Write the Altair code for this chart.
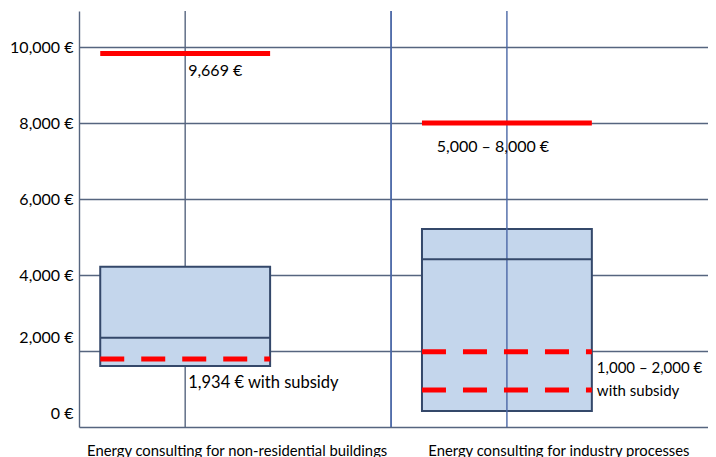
import altair as alt
import pandas as pd

# ---- data ----
categories = ["Energy consulting for non-residential buildings",
              "Energy consulting for industry processes"]
box_low = [1605, 421]
box_mid = [2350, 4413]
box_high = [4218, 5210]
price_full = [9830, 8000]
price_labels = ["9,669 €", "5,000 – 8,000 €"]
subsidy_cat = [0, 1, 1]
subsidy_values = [1789, 1982, 974]
subsidy_labels = ["1,934 € with subsidy", "1,000 – 2,000 €\nwith subsidy"]
y_ticks = [0, 2000, 4000, 6000, 8000, 10000]

# ---- layout constants (x units of the category scale) ----
SHIFT = -0.16
HALF = 0.264
DIVIDER = 0.48

GRID = "#56657f"
BLUE = "#4a67a6"
RED = "#ff0000"
BOX_FILL = "#c4d6ec"
BOX_STROKE = "#34486a"
FONT = "Lato"

boxes = pd.DataFrame({
    "i": [0, 1], "cat": categories,
    "low": box_low, "mid": box_mid, "high": box_high,
    "price": price_full, "price_label": price_labels,
    "sub_label": [s.split("\n") for s in subsidy_labels],
})
subs = pd.DataFrame({"i": subsidy_cat, "value": subsidy_values})

label_expr = "[" + ",".join("'" + c + "'" for c in categories) + "][datum.value]"
xscale = alt.Scale(domain=[-0.49, 1.465], nice=False, zero=False)
xaxis = alt.Axis(values=[0, 1], labelExpr=label_expr, title=None, grid=False,
                 ticks=False, domain=False, labelFont=FONT, labelFontSize=14.8,
                 labelColor="#000000", labelPadding=16, labelOverlap=False,
                 labelLimit=0)
yscale = alt.Scale(domain=[0, 10950], nice=False, zero=False)
yaxis = alt.Axis(values=y_ticks, labelExpr="format(datum.value, ',') + ' €'",
                 title=None, ticks=False, grid=True, gridColor=GRID, gridWidth=1.4,
                 domain=True, domainColor=GRID, domainWidth=1.4,
                 labelFont=FONT, labelFontSize=16, labelColor="#000000",
                 labelPadding=6,
                 labelOffset={"condition": {"test": "datum.value <= 2000", "value": -14}, "value": 0})


def X(field):
    return alt.X(field, type="quantitative", scale=xscale, axis=xaxis)


def Y(field):
    return alt.Y(field, type="quantitative", scale=yscale, axis=yaxis)


base = alt.Chart(boxes).transform_calculate(
    xc=f"datum.i + ({SHIFT})",
    xl=f"datum.i + ({SHIFT}) - {HALF}",
    xr=f"datum.i + ({SHIFT}) + {HALF}",
)

center_back = base.transform_filter("datum.i == 0").mark_rule(
    color=GRID, strokeWidth=1.4).encode(x=X("xc"))
divider = alt.Chart(boxes).mark_rule(color=BLUE, strokeWidth=1.4).encode(
    x=alt.X(datum=DIVIDER, type="quantitative", scale=xscale, axis=xaxis))

bars = base.mark_bar(fill=BOX_FILL, stroke=BOX_STROKE, strokeWidth=2).encode(
    x=X("xl"), x2=alt.X2("xr"), y=Y("low"), y2=alt.Y2("high"))

center_front = base.transform_filter("datum.i == 1").mark_rule(
    color=BLUE, strokeWidth=1.4).encode(x=X("xc"))

mids = base.mark_rule(color=BOX_STROKE, strokeWidth=2).encode(
    x=X("xl"), x2=alt.X2("xr"), y=Y("mid"))

prices = base.mark_rule(color=RED, strokeWidth=5).encode(
    x=X("xl"), x2=alt.X2("xr"), y=Y("price"))

dashes = alt.Chart(subs).transform_calculate(
    xl=f"datum.i + ({SHIFT}) - {HALF}",
    xr=f"datum.i + ({SHIFT}) + {HALF}",
).mark_rule(color=RED, strokeWidth=5, strokeDash=[24, 17], strokeCap="butt").encode(
    x=X("xl"), x2=alt.X2("xr"), y=Y("value"))

txt = dict(font=FONT, color="#000000", baseline="middle")
price_t0 = base.transform_filter("datum.i == 0").mark_text(
    align="left", dx=3, dy=17, fontSize=16, **txt).encode(
    x=X("xc"), y=Y("price"), text="price_label:N")
price_t1 = base.transform_filter("datum.i == 1").mark_text(
    align="center", dx=-14, dy=24, fontSize=16, **txt).encode(
    x=X("xc"), y=Y("price"), text="price_label:N")
sub_t0 = base.transform_filter("datum.i == 0").mark_text(
    align="left", dx=3, dy=17, fontSize=16.5, **txt).encode(
    x=X("xc"), y=Y("low"), text="sub_label")
sub_t1 = base.transform_filter("datum.i == 1").mark_text(
    align="left", dx=5, dy=-43, lineHeight=23, fontSize=15, **txt).encode(
    x=X("xr"), y=Y("low"), text="sub_label")

chart = alt.layer(
    center_back, divider, bars, center_front, mids, prices, dashes,
    price_t0, price_t1, sub_t0, sub_t1,
).properties(
    width=629, height=416,
    padding={"left": 71, "top": 3, "right": 0, "bottom": 30},
    autosize=alt.AutoSizeParams(type="none"),
    background="#ffffff",
).configure_view(strokeWidth=0)

chart.save("out.html", embed_options={"renderer": "svg", "actions": False})
